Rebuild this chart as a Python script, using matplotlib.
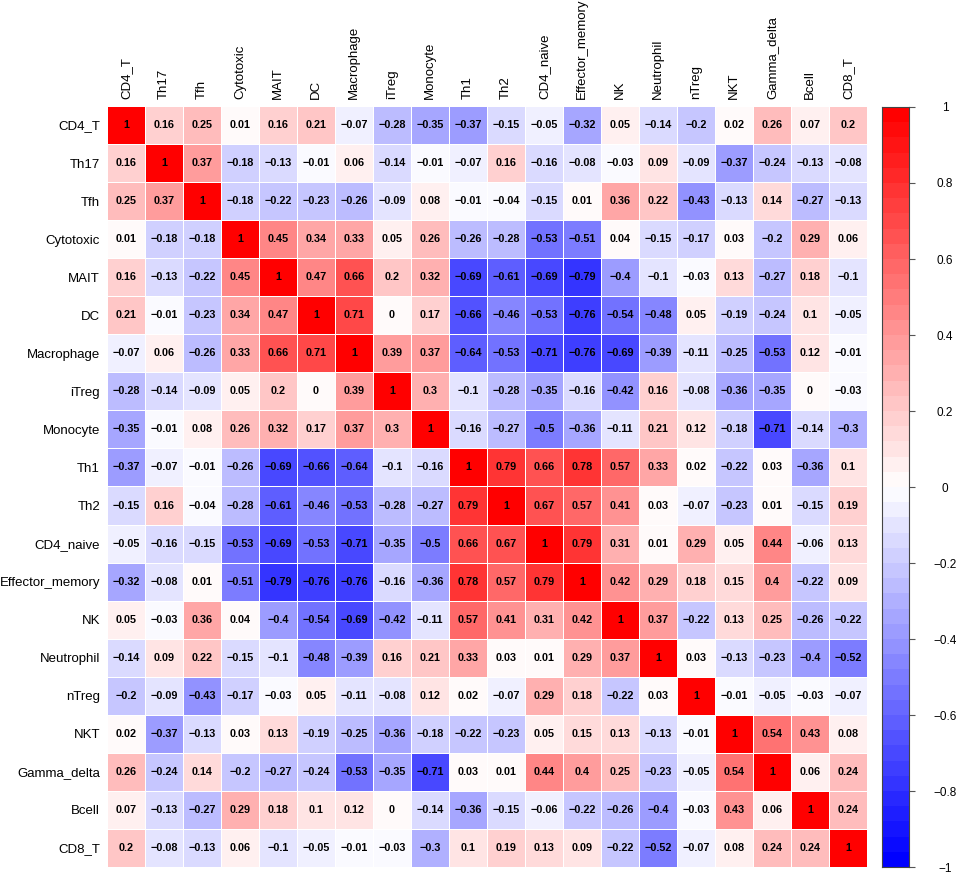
import numpy as np
import matplotlib
matplotlib.use("Agg")
import matplotlib.pyplot as plt
from matplotlib.colors import ListedColormap, BoundaryNorm, LinearSegmentedColormap

plt.rcParams['font.family'] = ['Liberation Sans', 'DejaVu Sans']

labels = ["CD4_T", "Th17", "Tfh", "Cytotoxic", "MAIT", "DC", "Macrophage", "iTreg",
          "Monocyte", "Th1", "Th2", "CD4_naive", "Effector_memory", "NK", "Neutrophil",
          "nTreg", "NKT", "Gamma_delta", "Bcell", "CD8_T"]

r_CD4_T = [1, 0.16, 0.25, 0.01, 0.16, 0.21, -0.07, -0.28, -0.35, -0.37, -0.15, -0.05, -0.32, 0.05, -0.14, -0.2, 0.02, 0.26, 0.07, 0.2]
r_Th17 = [0.16, 1, 0.37, -0.18, -0.13, -0.01, 0.06, -0.14, -0.01, -0.07, 0.16, -0.16, -0.08, -0.03, 0.09, -0.09, -0.37, -0.24, -0.13, -0.08]
r_Tfh = [0.25, 0.37, 1, -0.18, -0.22, -0.23, -0.26, -0.09, 0.08, -0.01, -0.04, -0.15, 0.01, 0.36, 0.22, -0.43, -0.13, 0.14, -0.27, -0.13]
r_Cytotoxic = [0.01, -0.18, -0.18, 1, 0.45, 0.34, 0.33, 0.05, 0.26, -0.26, -0.28, -0.53, -0.51, 0.04, -0.15, -0.17, 0.03, -0.2, 0.29, 0.06]
r_MAIT = [0.16, -0.13, -0.22, 0.45, 1, 0.47, 0.66, 0.2, 0.32, -0.69, -0.61, -0.69, -0.79, -0.4, -0.1, -0.03, 0.13, -0.27, 0.18, -0.1]
r_DC = [0.21, -0.01, -0.23, 0.34, 0.47, 1, 0.71, 0, 0.17, -0.66, -0.46, -0.53, -0.76, -0.54, -0.48, 0.05, -0.19, -0.24, 0.1, -0.05]
r_Macrophage = [-0.07, 0.06, -0.26, 0.33, 0.66, 0.71, 1, 0.39, 0.37, -0.64, -0.53, -0.71, -0.76, -0.69, -0.39, -0.11, -0.25, -0.53, 0.12, -0.01]
r_iTreg = [-0.28, -0.14, -0.09, 0.05, 0.2, 0, 0.39, 1, 0.3, -0.1, -0.28, -0.35, -0.16, -0.42, 0.16, -0.08, -0.36, -0.35, 0, -0.03]
r_Monocyte = [-0.35, -0.01, 0.08, 0.26, 0.32, 0.17, 0.37, 0.3, 1, -0.16, -0.27, -0.5, -0.36, -0.11, 0.21, 0.12, -0.18, -0.71, -0.14, -0.3]
r_Th1 = [-0.37, -0.07, -0.01, -0.26, -0.69, -0.66, -0.64, -0.1, -0.16, 1, 0.79, 0.66, 0.78, 0.57, 0.33, 0.02, -0.22, 0.03, -0.36, 0.1]
r_Th2 = [-0.15, 0.16, -0.04, -0.28, -0.61, -0.46, -0.53, -0.28, -0.27, 0.79, 1, 0.67, 0.57, 0.41, 0.03, -0.07, -0.23, 0.01, -0.15, 0.19]
r_CD4_naive = [-0.05, -0.16, -0.15, -0.53, -0.69, -0.53, -0.71, -0.35, -0.5, 0.66, 0.67, 1, 0.79, 0.31, 0.01, 0.29, 0.05, 0.44, -0.06, 0.13]
r_Effector_memory = [-0.32, -0.08, 0.01, -0.51, -0.79, -0.76, -0.76, -0.16, -0.36, 0.78, 0.57, 0.79, 1, 0.42, 0.29, 0.18, 0.15, 0.4, -0.22, 0.09]
r_NK = [0.05, -0.03, 0.36, 0.04, -0.4, -0.54, -0.69, -0.42, -0.11, 0.57, 0.41, 0.31, 0.42, 1, 0.37, -0.22, 0.13, 0.25, -0.26, -0.22]
r_Neutrophil = [-0.14, 0.09, 0.22, -0.15, -0.1, -0.48, -0.39, 0.16, 0.21, 0.33, 0.03, 0.01, 0.29, 0.37, 1, 0.03, -0.13, -0.23, -0.4, -0.52]
r_nTreg = [-0.2, -0.09, -0.43, -0.17, -0.03, 0.05, -0.11, -0.08, 0.12, 0.02, -0.07, 0.29, 0.18, -0.22, 0.03, 1, -0.01, -0.05, -0.03, -0.07]
r_NKT = [0.02, -0.37, -0.13, 0.03, 0.13, -0.19, -0.25, -0.36, -0.18, -0.22, -0.23, 0.05, 0.15, 0.13, -0.13, -0.01, 1, 0.54, 0.43, 0.08]
r_Gamma_delta = [0.26, -0.24, 0.14, -0.2, -0.27, -0.24, -0.53, -0.35, -0.71, 0.03, 0.01, 0.44, 0.4, 0.25, -0.23, -0.05, 0.54, 1, 0.06, 0.24]
r_Bcell = [0.07, -0.13, -0.27, 0.29, 0.18, 0.1, 0.12, 0, -0.14, -0.36, -0.15, -0.06, -0.22, -0.26, -0.4, -0.03, 0.43, 0.06, 1, 0.24]
r_CD8_T = [0.2, -0.08, -0.13, 0.06, -0.1, -0.05, -0.01, -0.03, -0.3, 0.1, 0.19, 0.13, 0.09, -0.22, -0.52, -0.07, 0.08, 0.24, 0.24, 1]

cbar_ticks = [-1, -0.8, -0.6, -0.4, -0.2, 0, 0.2, 0.4, 0.6, 0.8, 1]

M = np.array([r_CD4_T, r_Th17, r_Tfh, r_Cytotoxic, r_MAIT, r_DC, r_Macrophage, r_iTreg,
              r_Monocyte, r_Th1, r_Th2, r_CD4_naive, r_Effector_memory, r_NK, r_Neutrophil,
              r_nTreg, r_NKT, r_Gamma_delta, r_Bcell, r_CD8_T], dtype=float)
n = len(labels)

nb = 50
base = LinearSegmentedColormap.from_list("bwr_", ["#0000FF", "#FFFFFF", "#FF0000"])
cmap = ListedColormap([base(i / (nb - 1)) for i in range(nb)])
bounds = np.linspace(-1, 1, nb + 1)
norm = BoundaryNorm(bounds, cmap.N)

W, H = 957, 872
fig = plt.figure(figsize=(W / 100, H / 100), dpi=100)
ax = fig.add_axes([107 / W, 1 - 867 / H, 760 / W, 761 / H])
ax.pcolormesh(np.arange(n + 1), np.arange(n + 1), M, cmap=cmap, norm=norm,
              edgecolors='white', linewidth=0.6)
ax.set_xlim(0, n)
ax.set_ylim(n, 0)
for s in ax.spines.values():
    s.set_visible(False)
ax.set_xticks(np.arange(n) + 0.5)
ax.set_yticks(np.arange(n) + 0.5)
ax.xaxis.tick_top()
ax.set_xticklabels(labels, rotation=90, fontsize=9.5)
ax.set_yticklabels(labels, fontsize=9.5)
ax.tick_params(length=0, pad=5)

def fmt(v):
    if v == 1:
        s = "1"
    elif v == 0:
        s = "0"
    else:
        s = ("%.2f" % v).rstrip("0")
        s = s.replace("-", "\u2212")
    return s

for i in range(n):
    for j in range(n):
        ax.text(j + 0.5, i + 0.5, fmt(M[i, j]), ha='center', va='center',
                fontsize=7.8, fontweight='bold', color='black')

cax = fig.add_axes([882 / W, 1 - 867 / H, 27 / W, 760 / H])
cax.pcolormesh([0, 1], bounds, np.array([(bounds[:-1] + bounds[1:]) / 2]).T,
               cmap=cmap, norm=norm)
cax.set_xlim(0, 1)
cax.set_ylim(-1, 1)
cax.set_xticks([])
cax.yaxis.tick_right()
cax.set_yticks(cbar_ticks)
cax.set_yticklabels([("%g" % t).replace("-", "\u2212") for t in cbar_ticks], fontsize=8.5)
cax.tick_params(axis='y', length=4, color='#555555', pad=22)
for lbl in cax.get_yticklabels():
    lbl.set_horizontalalignment('center')
for s in cax.spines.values():
    s.set_color('#444444')
    s.set_linewidth(0.8)

fig.savefig("out.png", dpi=100)
